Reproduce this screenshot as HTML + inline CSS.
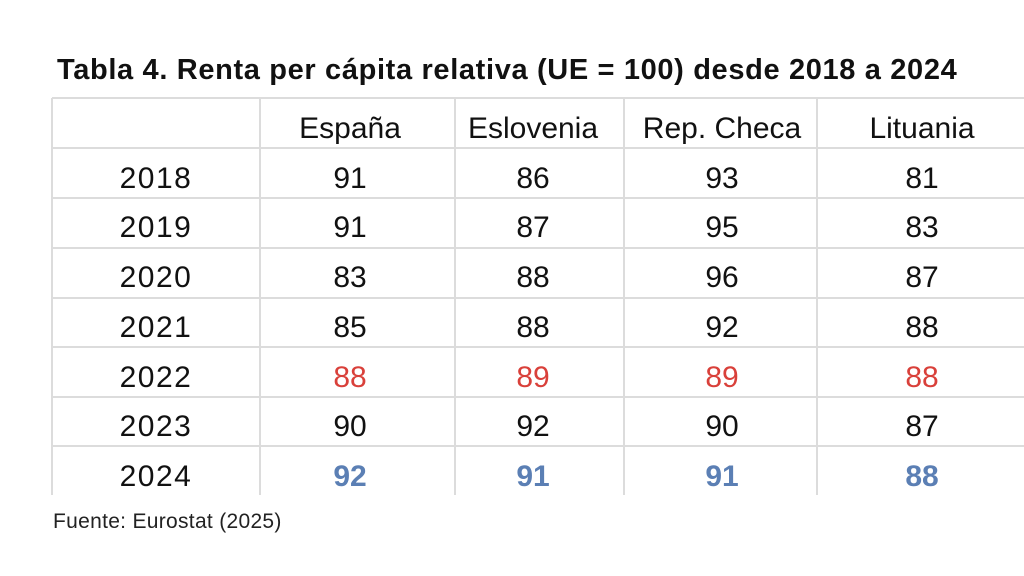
<!DOCTYPE html>
<html><head><meta charset="utf-8"><style>
body{margin:0;width:1024px;height:576px;background:#fff;position:relative;overflow:hidden;font-family:"Liberation Sans",sans-serif;}
.t{position:absolute;left:57px;top:54px;font-size:29px;font-weight:bold;color:#111;letter-spacing:0.65px;white-space:nowrap;}
.h{position:absolute;background:#dcdcdc;height:2px;left:52px;width:972px;}
.v{position:absolute;background:#dcdcdc;width:2px;top:98px;height:397px;}
.c{position:absolute;width:200px;text-align:center;font-size:30px;color:#111;line-height:50px;height:50px;}
.y{letter-spacing:1.5px}
.r{color:#d9403a}.b{color:#5b7fb4;font-weight:bold}
.s{position:absolute;left:53px;top:510px;font-size:21px;letter-spacing:0.3px;color:#222;}
</style></head><body>
<div class="t">Tabla 4. Renta per cápita relativa (UE = 100) desde 2018 a 2024</div>
<div class="h" style="top:97px"></div>
<div class="h" style="top:147px"></div>
<div class="h" style="top:197px"></div>
<div class="h" style="top:247px"></div>
<div class="h" style="top:297px"></div>
<div class="h" style="top:346px"></div>
<div class="h" style="top:396px"></div>
<div class="h" style="top:445px"></div>
<div class="v" style="left:51px"></div>
<div class="v" style="left:259px"></div>
<div class="v" style="left:454px"></div>
<div class="v" style="left:623px"></div>
<div class="v" style="left:816px"></div>
<div id="g"></div>
<script>
var cx=[156,350,533,722,922];
var rows=[["","España","Eslovenia","Rep. Checa","Lituania"],
["2018","91","86","93","81"],["2019","91","87","95","83"],["2020","83","88","96","87"],
["2021","85","88","92","88"],["2022","88","89","89","88"],["2023","90","92","90","87"],["2024","92","91","91","88"]];
var h="";
rows.forEach(function(r,i){r.forEach(function(t,j){
var cls="c";if(j==0)cls+=" y";if(i==5&&j>0)cls+=" r";if(i==7&&j>0)cls+=" b";
h+='<div class="'+cls+'" style="left:'+(cx[j]-100)+'px;top:'+(104+i*49.7)+'px">'+t+'</div>';});});
document.getElementById("g").innerHTML=h;
</script>
<div class="s">Fuente: Eurostat (2025)</div>
</body></html>
